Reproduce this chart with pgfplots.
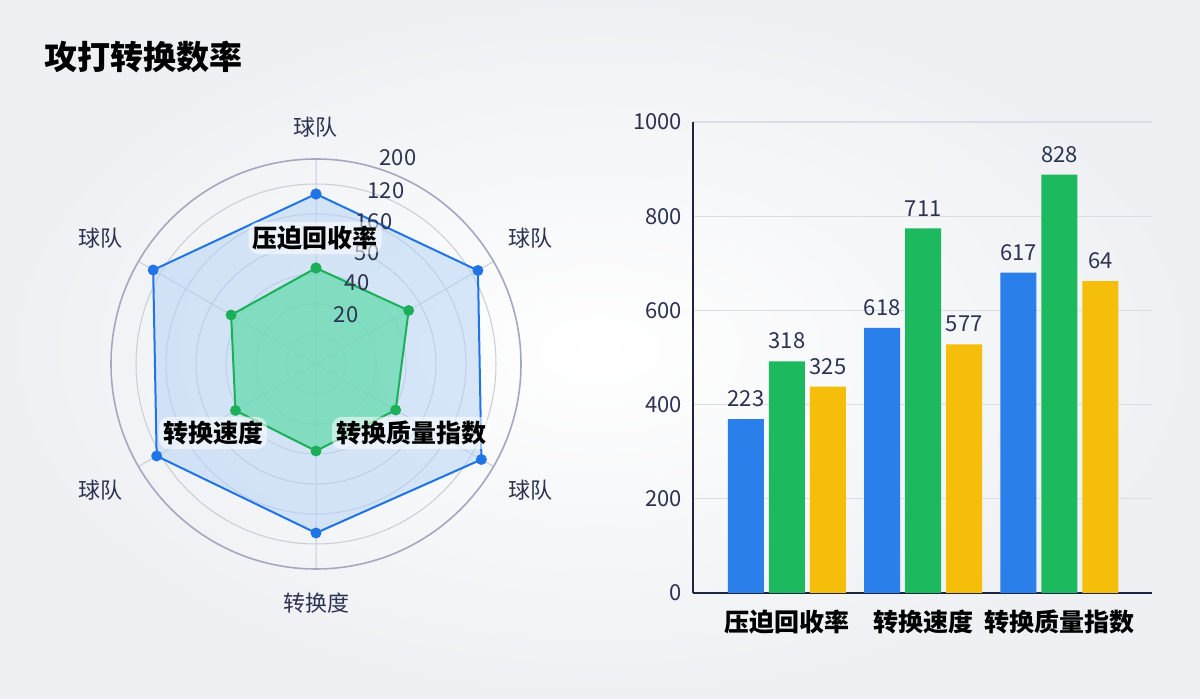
\documentclass[border=0pt]{standalone}
\usepackage{fontspec}
\setmainfont{Noto Sans CJK SC}
\usepackage{pgfplots}
\pgfplotsset{compat=1.18}
\usepgfplotslibrary{polar}

\definecolor{bgc}{HTML}{EEF0F3}
\definecolor{txt}{HTML}{2C3352}
\definecolor{ringc}{HTML}{A3A8C0}
\definecolor{gridc}{HTML}{C9CCD8}
\definecolor{cblue}{HTML}{2A7FEA}
\definecolor{lblue}{HTML}{1F74E6}
\definecolor{cgreen}{HTML}{1DB95E}
\definecolor{lgreen}{HTML}{1AAF58}
\definecolor{cyellow}{HTML}{F4BE0B}
\definecolor{navy}{HTML}{1F2440}
\definecolor{bgrid}{HTML}{D9DDE8}

\newcommand{\sz}[1]{\fontsize{#1}{#1}\selectfont}

\begin{document}
\begin{tikzpicture}
\useasboundingbox (0,0) rectangle (600pt,349.5pt);
\shade[inner color=white, outer color=bgc] (0,0) rectangle (600pt,349.5pt);

% title
\node[anchor=west, inner sep=0pt, text=black] at (22pt,321pt) {\sz{16.5pt}\bfseries 攻打转换数率};

% radar
\begin{polaraxis}[
  at={(158pt,167.5pt)}, anchor=center,
  scale only axis, width=205pt, height=205pt,
  ymin=0, ymax=205,
  xtick={30,90,150,210,270,330},
  ytick={30,60,90,120,150,180},
  xticklabels={}, yticklabels={},
  major tick length=0pt,
  grid=major,
  major grid style={draw=gridc, line width=0.5pt},
  x axis line style={draw=ringc, line width=0.8pt},
  y axis line style={draw=none},
  clip=false,
]
\addplot[draw=lblue, line width=1pt, fill={rgb,255:red,178;green,210;blue,246}, fill opacity=0.5,
  mark=*, mark size=2.2pt, mark options={fill=lblue, draw=lblue, fill opacity=1}]
  coordinates {(90,170) (30,187) (-30,191) (-90,169) (-150,184) (150,188) (90,170)};
\addplot[draw=lgreen, line width=1pt, fill={rgb,255:red,95;green,218;blue,170}, fill opacity=0.7,
  mark=*, mark size=2.2pt, mark options={fill=lgreen, draw=lgreen, fill opacity=1}]
  coordinates {(90,96) (30,107) (-30,92) (-90,87) (-150,93) (150,98) (90,96)};
\end{polaraxis}

% radar axis labels
\begin{scope}[every node/.style={text=txt, inner sep=0pt, font=\sz{11pt}}]
\node at (157.5pt,286pt) {球队};
\node at (265pt,230.5pt) {球队};
\node at (265pt,104.5pt) {球队};
\node at (50pt,230.5pt) {球队};
\node at (50pt,104.5pt) {球队};
\node at (158pt,48pt) {转换度};
\node at (199pt,270.5pt) {200};
\node at (193pt,254pt) {120};
\node at (187pt,238.5pt) {160};
\node at (183.5pt,223pt) {50};
\node at (178.5pt,208pt) {40};
\node at (173pt,192pt) {20};
\end{scope}

\begin{scope}[every node/.style={text=black, fill=white, fill opacity=0.55, text opacity=1,
  rounded corners=5pt, inner sep=2pt, font=\sz{12.5pt}\bfseries}]
\node at (157.5pt,230.5pt) {压迫回收率};
\node at (106.5pt,133pt) {转换速度};
\node at (205.5pt,133pt) {转换质量指数};
\end{scope}

% bars
\begin{axis}[
  at={(346.5pt,53pt)}, anchor=south west,
  scale only axis, width=229.5pt, height=235.5pt,
  xmin=-0.69, xmax=2.68, ymin=0, ymax=1000,
  xtick={0,1,2},
  xticklabels={压迫回收率,转换速度,转换质量指数},
  ytick={0,200,400,600,800,1000},
  major tick length=0pt,
  ymajorgrids, major grid style={draw=bgrid, line width=0.6pt},
  axis x line*=bottom, axis y line*=left,
  x axis line style={-, draw=navy, line width=1pt},
  y axis line style={-, draw=navy, line width=1pt},
  xticklabel style={font=\sz{12.5pt}\bfseries, text=black, yshift=-5pt},
  yticklabel style={font=\sz{11pt}, text=txt, xshift=-2pt},
  /pgf/number format/assume math mode=true,
  /pgf/number format/1000 sep={},
  ybar, bar width=18pt,
  nodes near coords, point meta=explicit symbolic,
  every node near coord/.append style={font=\sz{11pt}, text=txt, inner sep=0pt, yshift=6pt, anchor=south},
  clip=false,
]
\addplot[fill=cblue, draw=none, bar shift=-20.5pt] coordinates {(0,369) [223] (1,563) [618] (2,680) [617]};
\addplot[fill=cgreen, draw=none, bar shift=0pt] coordinates {(0,492) [318] (1,774) [711] (2,888) [828]};
\addplot[fill=cyellow, draw=none, bar shift=20.5pt] coordinates {(0,438) [325] (1,528) [577] (2,662) [64]};
\end{axis}
\end{tikzpicture}
\end{document}
